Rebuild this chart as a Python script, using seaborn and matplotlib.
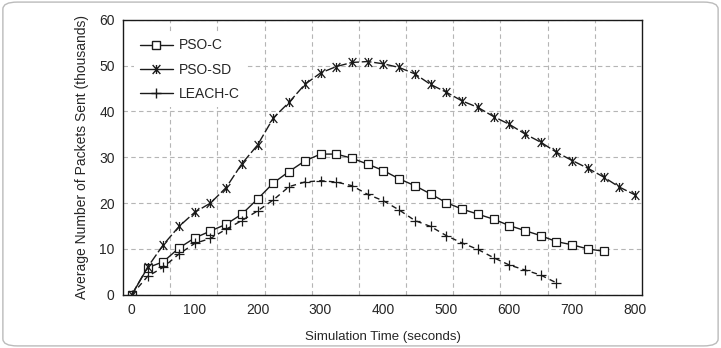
import numpy as np
import pandas as pd
import matplotlib
matplotlib.use('Agg')
import matplotlib.pyplot as plt
import seaborn as sns
from matplotlib.path import Path
from matplotlib.lines import Line2D
from matplotlib.patches import FancyBboxPatch

# -------- data --------
step = 25
pso_c = [0, 5.9, 7.2, 10.2, 12.4, 13.9, 15.4, 17.6, 20.9, 24.4, 26.9, 29.2, 30.7, 30.7,
         29.8, 28.5, 27.1, 25.3, 23.8, 22.0, 20.1, 18.7, 17.6, 16.5, 15.1, 14.0, 12.9,
         11.6, 10.9, 10.0, 9.5]
pso_sd = [0, 6.0, 10.9, 14.9, 18.0, 20.0, 23.4, 28.6, 32.7, 38.6, 42.0, 45.9, 48.4, 49.8,
          50.7, 50.9, 50.4, 49.6, 48.2, 45.9, 44.2, 42.3, 40.9, 38.9, 37.2, 35.1, 33.3,
          31.1, 29.3, 27.6, 25.7, 23.5, 21.8]
leach_c = [0, 4.0, 6.0, 8.9, 11.2, 12.3, 14.3, 16.2, 18.3, 20.7, 23.6, 24.6, 24.9, 24.6,
           23.8, 21.9, 20.5, 18.5, 16.2, 14.9, 12.9, 11.3, 9.9, 8.1, 6.5, 5.4, 4.3, 2.6]
series_names = ['PSO-C', 'PSO-SD', 'LEACH-C']
x_ticks = [0, 100, 200, 300, 400, 500, 600, 700, 800]
y_ticks = [0, 10, 20, 30, 40, 50, 60]

t_c = np.arange(len(pso_c)) * step
t_sd = np.arange(len(pso_sd)) * step
t_l = np.arange(len(leach_c)) * step

sns.set_style('white')
plt.rcParams['font.family'] = ['Liberation Sans', 'DejaVu Sans']

# X marker with a vertical bar through it
star = Path([(-0.85, -1), (0.85, 1), (-0.85, 1), (0.85, -1), (0, -1), (0, 1)],
            [Path.MOVETO, Path.LINETO, Path.MOVETO, Path.LINETO, Path.MOVETO, Path.LINETO])

fig = plt.figure(figsize=(7.21, 3.48), dpi=100)
ax = fig.add_axes([0.1706, 0.153, 0.7198, 0.790])

col = '#1a1a1a'
sns.lineplot(x=t_c, y=pso_c, ax=ax, color=col, lw=1, linestyle='-', marker='s',
             markersize=5.5, markerfacecolor='white', markeredgecolor=col, markeredgewidth=0.9)
sns.lineplot(x=t_sd, y=pso_sd, ax=ax, color=col, lw=1, dashes=(7, 2), marker=star,
             markersize=6.5, markeredgecolor=col, markeredgewidth=0.9)
sns.lineplot(x=t_l, y=leach_c, ax=ax, color=col, lw=1, dashes=(4, 3), marker='+',
             markersize=7, markeredgecolor=col, markeredgewidth=0.9)

ax.set_xlim(-14, 811)
ax.set_ylim(0, 60)

# Format X axis: labels at hundreds, grid/ticks every 75 from the left edge
ax.set_xticks(x_ticks)
ax.set_xticklabels([str(t) for t in x_ticks], fontsize=10)
ax.set_xticks(np.arange(-14 + 75, 811, 75), minor=True)
ax.tick_params(axis='x', which='major', length=0, pad=6)
ax.tick_params(axis='x', which='minor', direction='in', length=3, width=0.8, color='#555555')
# Format Y axis
ax.set_yticks(y_ticks)
ax.set_yticklabels([str(t) for t in y_ticks], fontsize=10)
ax.tick_params(axis='y', direction='out', length=3, width=0.8, pad=3)

ax.grid(False)
ax.grid(axis='x', which='minor', linestyle=(0, (4, 3)), color='#b5b5b5', lw=0.8)
ax.grid(axis='y', which='major', linestyle=(0, (4, 3)), color='#b5b5b5', lw=0.8)
for s in ax.spines.values():
    s.set_color(col)
    s.set_linewidth(1)

ax.set_xlabel('Simulation Time (seconds)', fontsize=9.5, labelpad=10)
ax.set_ylabel('Average Number of Packets Sent (thousands)', fontsize=10, labelpad=7)

handles = [
    Line2D([], [], color=col, lw=1, marker='s', markersize=5.5, markerfacecolor='white',
           markeredgecolor=col),
    Line2D([], [], color=col, lw=1, marker=star, markersize=6.5, markeredgecolor=col),
    Line2D([], [], color=col, lw=1, marker='+', markersize=7, markeredgecolor=col),
]
leg = ax.legend(handles, series_names, loc='upper left', bbox_to_anchor=(0.008, 0.978),
                fontsize=10, frameon=True, facecolor='white', edgecolor='none', framealpha=1,
                handlelength=2.4, handletextpad=0.45, labelspacing=0.75, borderpad=0.4)

# light rounded frame around the whole figure
fig.patches.append(FancyBboxPatch((0.004, 0.006), 0.992, 0.988, boxstyle='round,pad=0,rounding_size=0.02',
                                  transform=fig.transFigure, fill=False, edgecolor='#bbbbbb', lw=1))

fig.savefig('out.png', dpi=100)
